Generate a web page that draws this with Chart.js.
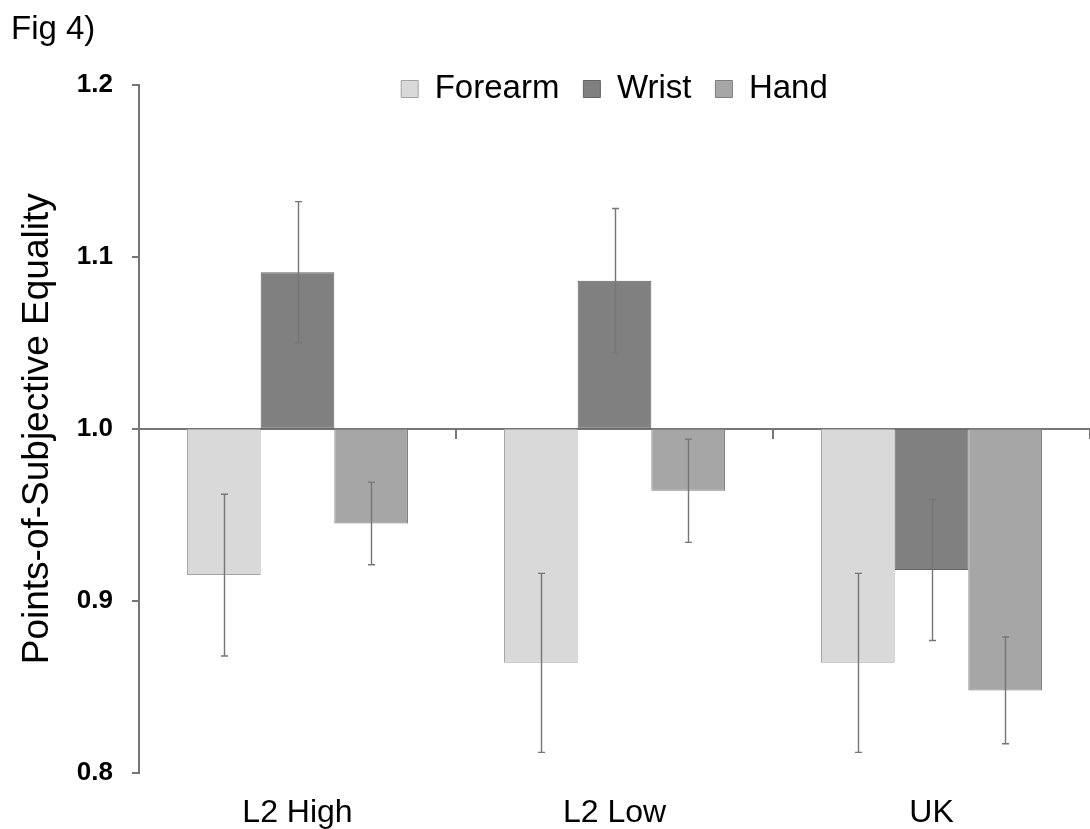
<!DOCTYPE html>
<html>
<head>
<meta charset="utf-8">
<script src="https://cdn.jsdelivr.net/npm/chart.js@4/dist/chart.umd.min.js"></script>
<style>
  html, body { margin: 0; padding: 0; background: #ffffff; }
  #wrap { width: 1090px; height: 829px; position: relative; }
</style>
</head>
<body>
<div id="wrap"><canvas id="c" width="1090" height="829"></canvas></div>
<script>
// ---- data ----
const categories = ['L2 High', 'L2 Low', 'UK'];
const seriesNames = ['Forearm', 'Wrist', 'Hand'];
const baseline = 1.0;
const forearmValues = [0.915, 0.864, 0.864];
const forearmErrors = [0.047, 0.052, 0.052];
const wristValues = [1.091, 1.086, 0.918];
const wristErrors = [0.041, 0.042, 0.041];
const handValues = [0.945, 0.964, 0.848];
const handErrors = [0.024, 0.030, 0.031];
const yTicks = [0.8, 0.9, 1.0, 1.1, 1.2];
const figLabel = 'Fig 4)';
const yTitle = 'Points-of-Subjective Equality';

const FONT = "'Liberation Sans', Arial, Helvetica, sans-serif";
Chart.defaults.font.family = FONT;
Chart.defaults.color = '#000000';

const AXIS = '#767676';

const errorBarPlugin = {
  id: 'errorBars',
  afterDatasetsDraw(chart) {
    const ctx = chart.ctx;
    const y = chart.scales.y;
    chart.data.datasets.forEach((ds, di) => {
      const meta = chart.getDatasetMeta(di);
      meta.data.forEach((bar, i) => {
        const v = ds.values[i], e = ds.errors[i];
        const yT = y.getPixelForValue(v + e);
        const yB = y.getPixelForValue(v - e);
        const x = Math.round(bar.x) + 0.5;
        ctx.save();
        ctx.strokeStyle = '#767676';
        ctx.lineWidth = 1.4;
        ctx.beginPath();
        ctx.moveTo(x, yT); ctx.lineTo(x, yB);
        ctx.moveTo(x - 3.5, yT); ctx.lineTo(x + 3.5, yT);
        ctx.moveTo(x - 3.5, yB); ctx.lineTo(x + 3.5, yB);
        ctx.stroke();
        ctx.restore();
      });
    });
  }
};

// place the legend inside the top of the plot, as in the reference
const legendShift = {
  id: 'legendShift',
  afterLayout(chart) {
    const lg = chart.legend;
    if (lg) {
      lg.top = 48.5;
      lg.height = 80;
      lg.bottom = lg.top + lg.height;
    }
  }
};

function mkDataset(label, values, errors, fill, border) {
  return {
    label: label,
    data: values.map(v => [baseline, v]),
    values: values,
    errors: errors,
    backgroundColor: fill,
    borderColor: border,
    borderWidth: 1,
    borderSkipped: false,
    categoryPercentage: 0.697,
    barPercentage: 1.0
  };
}

new Chart(document.getElementById('c'), {
  type: 'bar',
  data: {
    labels: categories,
    datasets: [
      mkDataset(seriesNames[0], forearmValues, forearmErrors, '#d9d9d9', '#a3a3a3'),
      mkDataset(seriesNames[1], wristValues, wristErrors, '#808080', '#636363'),
      mkDataset(seriesNames[2], handValues, handErrors, '#a6a6a6', '#7d7d7d')
    ]
  },
  options: {
    responsive: false,
    animation: false,
    devicePixelRatio: 1,
    layout: { padding: { left: 11, right: 0, top: 0, bottom: 0 } },
    plugins: {
      tooltip: { enabled: false },
      title: {
        display: true,
        text: figLabel,
        align: 'start',
        color: '#000000',
        font: { size: 33, weight: 'normal', family: FONT },
        padding: { top: 10.5, bottom: 33.5 }
      },
      legend: {
        display: true,
        position: 'top',
        fullSize: false,
        align: 'center',
        maxHeight: 1,
        labels: {
          boxWidth: 17,
          boxHeight: 17,
          padding: 24,
          color: '#000000',
          font: { size: 33, family: FONT }
        }
      }
    },
    scales: {
      x: {
        type: 'category',
        position: 'bottom',
        offset: true,
        grid: { display: false, drawTicks: false },
        border: { display: false },
        ticks: { padding: 21, color: '#000000', font: { size: 32, family: FONT } },
        afterFit(s) { s.height = 56; }
      },
      x2: {
        type: 'category',
        labels: categories,
        position: { y: baseline },
        offset: true,
        z: 1,
        grid: { display: true, offset: true, drawOnChartArea: false, drawTicks: true, tickLength: 9, color: AXIS, lineWidth: 2 },
        border: { display: true, color: AXIS, width: 2 },
        ticks: { display: false }
      },
      y: {
        type: 'linear',
        position: 'left',
        min: yTicks[0],
        max: yTicks[yTicks.length - 1],
        afterBuildTicks(s) { s.ticks = yTicks.map(v => ({ value: v })); },
        grid: { display: true, drawOnChartArea: false, drawTicks: true, tickLength: 7, color: AXIS, lineWidth: 2 },
        border: { display: true, color: AXIS, width: 2 },
        ticks: {
          padding: 19,
          color: '#000000',
          font: { size: 26, weight: 'bold', family: FONT },
          callback: v => Number(v).toFixed(1)
        },
        title: {
          display: true,
          text: yTitle,
          color: '#000000',
          font: { size: 37, weight: 'normal', family: FONT },
          padding: { top: 5, bottom: 0 }
        },
        afterFit(s) { s.width = 128; }
      }
    }
  },
  plugins: [errorBarPlugin, legendShift]
});
</script>
</body>
</html>
